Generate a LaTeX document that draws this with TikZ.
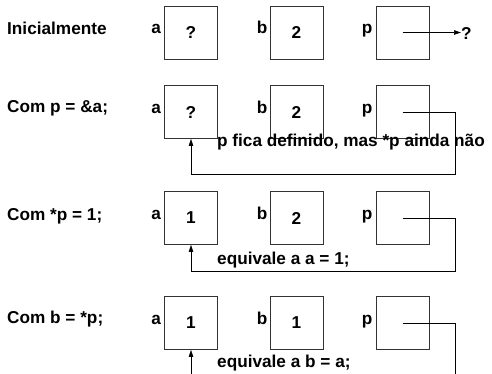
\documentclass[tikz,border=0pt]{standalone}
\usepackage{fontspec}
\setmainfont{Liberation Sans}
\usepackage{tikz}
\usetikzlibrary{arrows.meta}

\begin{document}
\begin{tikzpicture}[x=1pt,y=-1pt,font=\bfseries\fontsize{17.2}{20}\selectfont,
  cell/.style={draw=black!80,line width=0.6pt,minimum width=53pt,minimum height=53pt,inner sep=0pt},
  var/.style={anchor=base east,inner sep=0pt},
  txt/.style={anchor=west,inner sep=0pt},
  ptr/.style={-{Triangle[length=7pt,width=4.5pt]},line width=0.6pt}]
\useasboundingbox (0,0) rectangle (492,374);
% the three variables, one row per statement
\foreach \r/\y/\va/\vb in {1/32.5/?/2, 2/112/?/2, 3/218/1/2, 4/323/1/1}{
  \node[cell] (a\r) at (191,\y) {\raisebox{-2pt}{\va}};
  \node[cell] (b\r) at (296.5,\y) {\raisebox{-2pt}{\vb}};
  \node[cell] (p\r) at (402.5,\y) {};
  \node[var] (na\r) at ([xshift=-3pt,yshift=-28pt]a\r.north west) {a};
  \node[var] (nb\r) at ([xshift=-2pt,yshift=-28pt]b\r.north west) {b};
  \node[var] (np\r) at ([xshift=-3pt,yshift=-28pt]p\r.north west) {p};
}
\node[txt] (s1) at (7,28) {Inicialmente};
\node[txt] (s2) at (7,108) {Com p = \&a;};
\node[txt] (s3) at (7,216) {Com *p = 1;};
\node[txt] (s4) at (7,319) {Com b = *p;};
\node[txt] (n2) at (217,142) {p fica definido, mas *p ainda não};
\node[txt] (n3) at (217,260) {equivale a a = 1;};
\node[txt] (n4) at (217,363) {equivale a b = a;};
\node[txt] (q) at (461,33) {?};
\coordinate (end4) at (455,374);
\coordinate (tail4) at (191,374);
\draw[ptr] (p1.center) -- (p1.center -| q.west);
\draw[ptr] (p2.center) -- ++(52.5,0) |- ([yshift=-36pt]a2.south) -- (a2.south);
\draw[ptr] (p3.center) -- ++(52.5,0) |- ([yshift=-26pt]a3.south) -- (a3.south);
\draw[line width=0.6pt] (p4.center) -| (end4);
\draw[ptr] (tail4) -- (a4.south);
\end{tikzpicture}
\end{document}
